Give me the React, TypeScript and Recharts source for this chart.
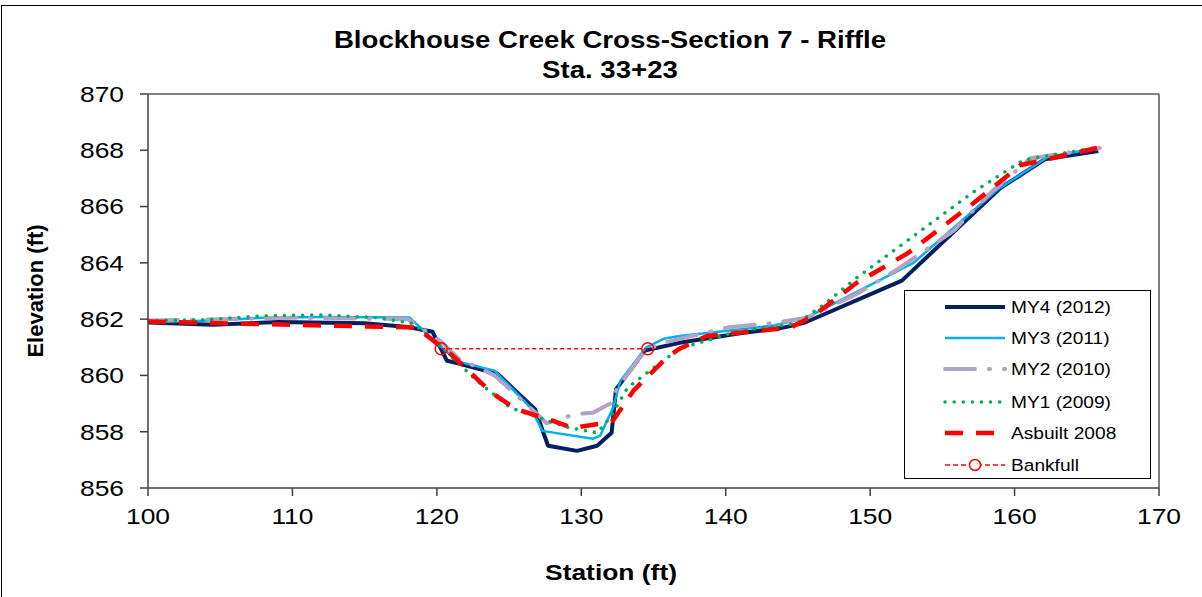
import React from 'react';
import { LineChart, Line, XAxis, YAxis, ReferenceLine } from 'recharts';

// station (ft) / elevation (ft) pairs
const my4Station = [100, 104.5, 109, 115, 118, 119.7, 120.7, 121.3, 124.2, 126.8, 127.7, 129.7, 131.1, 132.1, 132.4, 134.4, 136.8, 141, 144, 145.5, 152.2, 159, 162.1, 165.8];
const my4Elev = [861.88, 861.8, 861.9, 861.85, 861.72, 861.55, 860.52, 860.45, 860.06, 858.8, 857.5, 857.32, 857.5, 857.96, 859.5, 860.88, 861.16, 861.5, 861.7, 861.88, 863.37, 866.65, 867.68, 867.97];

const my3Station = [100, 104.5, 108, 112, 118.1, 121.4, 124.0, 126.5, 127.3, 130.8, 131.3, 132.2, 132.7, 134.5, 135.7, 136.8, 143.3, 145.6, 153.0, 158.8, 162.3, 165.7];
const my3Elev = [861.9, 861.95, 862.05, 862.08, 862.06, 860.5, 860.17, 858.85, 858.03, 857.75, 857.85, 858.85, 859.8, 861.0, 861.3, 861.4, 861.77, 862.05, 864.0, 866.6, 867.76, 868.08];

const my2Station = [100, 105, 110, 118, 120.3, 121.5, 124, 127, 127.6, 128.7, 129.9, 130.8, 132.0, 132.5, 134.4, 135.7, 140.1, 143.6, 145.6, 149.1, 152.1, 155.8, 158.3, 161.1, 165.9];
const my2Elev = [861.95, 862.0, 862.05, 862.0, 861.2, 860.6, 860.0, 858.6, 858.3, 858.5, 858.64, 858.67, 859.0, 859.56, 860.88, 861.16, 861.7, 861.88, 862.05, 862.9, 863.84, 865.15, 866.47, 867.72, 868.08];

const my1Station = [100, 104, 108, 112, 116, 118.4, 120.2, 122.8, 125.1, 127.6, 129.2, 131.1, 132.0, 133.2, 135.0, 136.8, 141.0, 144.9, 146.7, 149.1, 152.6, 157.1, 160.6, 165.7];
const my1Elev = [861.95, 861.98, 862.12, 862.15, 862.05, 861.84, 861.06, 859.8, 858.85, 858.4, 858.14, 857.96, 858.5, 859.56, 860.27, 860.95, 861.6, 861.84, 862.48, 863.48, 864.8, 866.5, 867.65, 868.1];

const asbuiltStation = [100, 105, 110, 118.6, 121.1, 123.8, 125.5, 127.6, 129.4, 131.3, 132.2, 133.6, 135.9, 136.8, 138.7, 144.5, 146.1, 149.1, 152.6, 157.1, 160.4, 165.7];
const asbuiltElev = [861.92, 861.85, 861.8, 861.7, 860.7, 859.38, 858.8, 858.46, 858.14, 858.28, 858.4, 859.45, 860.63, 860.95, 861.4, 861.7, 862.13, 863.3, 864.34, 866.1, 867.47, 868.08];

const bankfullStation = [120.3, 134.6];
const bankfullElev = [860.95, 860.95];

const xTicks = [100, 110, 120, 130, 140, 150, 160, 170];
const yTicks = [856, 858, 860, 862, 864, 866, 868, 870];

const toPoints = (st: number[], el: number[]) => st.map((x, i) => ({ x, y: el[i] }));

const series = [
  { name: 'MY4 (2012)', data: toPoints(my4Station, my4Elev), color: '#002060', width: 4, dash: undefined, cap: 'butt' },
  { name: 'MY3 (2011)', data: toPoints(my3Station, my3Elev), color: '#00B0F0', width: 2.5, dash: undefined, cap: 'butt' },
  { name: 'MY2 (2010)', data: toPoints(my2Station, my2Elev), color: '#B3A2C7', width: 4, dash: '30 14 1 14', cap: 'round' },
  { name: 'MY1 (2009)', data: toPoints(my1Station, my1Elev), color: '#00B050', width: 3.5, dash: '0.1 9', cap: 'round' },
  { name: 'Asbuilt 2008', data: toPoints(asbuiltStation, asbuiltElev), color: '#FF0000', width: 4.5, dash: '18 13', cap: 'butt' },
];
const bankfull = toPoints(bankfullStation, bankfullElev);

const font = '"Liberation Sans", Arial, sans-serif';
const STRETCH = 1.2; // the source picture is widened horizontally

const XTick = (props: any) => {
  const { x, y, payload } = props;
  return (
    <g transform={`translate(${x},${y})`}>
      <text transform={`scale(${STRETCH},1)`} textAnchor="middle" dy="0.71em" fontSize={22} fill="#000" fontFamily={font}>
        {payload.value}
      </text>
    </g>
  );
};

const YTick = (props: any) => {
  const { x, y, payload } = props;
  return (
    <g transform={`translate(${x},${y})`}>
      <text transform={`scale(${STRETCH},1)`} textAnchor="end" dy="0.355em" fontSize={22} fill="#000" fontFamily={font}>
        {payload.value}
      </text>
    </g>
  );
};

function LegendBox() {
  const rowY = [16, 47, 78, 111, 142, 174];
  return (
    <div style={{ position: 'absolute', left: 904, top: 290, width: 245, height: 187, border: '1.5px solid #000', background: '#fff' }}>
      <svg width={245} height={187} style={{ position: 'absolute', left: 0, top: 0 }}>
        {series.map((s, i) => (
          <line key={s.name} x1={40} x2={100} y1={rowY[i]} y2={rowY[i]} stroke={s.color} strokeWidth={s.width}
            strokeDasharray={s.dash} strokeLinecap={s.cap as any} />
        ))}
        <line x1={40} x2={100} y1={rowY[5]} y2={rowY[5]} stroke="#FF0000" strokeWidth={1.5} strokeDasharray="5 3" />
        <circle cx={70} cy={rowY[5]} r={5.5} fill="#fff" stroke="#FF0000" strokeWidth={1.5} />
        {[...series.map((s) => s.name), 'Bankfull'].map((n, i) => (
          <g key={n} transform={`translate(106,${rowY[i]})`}>
            <text transform="scale(1.16,1)" dy="0.35em" fontSize={16.5} fill="#000" fontFamily={font}>{n}</text>
          </g>
        ))}
      </svg>
    </div>
  );
}

export default function App() {
  return (
    <div style={{ position: 'absolute', left: 0, top: 0, width: 1202, height: 597, overflow: 'hidden', background: '#fff', fontFamily: font }}>
      <div style={{ position: 'absolute', left: 1, top: 5, width: 1300, height: 700, borderTop: '1px solid #000', borderLeft: '1px solid #000' }} />
      <div style={{ position: 'absolute', left: 610, top: 25, transform: `translateX(-50%) scaleX(${STRETCH})`, textAlign: 'center', fontWeight: 'bold', fontSize: 23, lineHeight: '30px', color: '#000', whiteSpace: 'nowrap' }}>
        Blockhouse Creek Cross-Section 7 - Riffle<br />Sta. 33+23
      </div>
      <div style={{ position: 'absolute', left: 36, top: 291, transform: 'translate(-50%, -50%) rotate(-90deg)', fontWeight: 'bold', fontSize: 22, whiteSpace: 'nowrap', color: '#000' }}>
        Elevation (ft)
      </div>
      <div style={{ position: 'absolute', left: 611, top: 573, transform: `translate(-50%, -50%) scaleX(${STRETCH})`, fontWeight: 'bold', fontSize: 22, whiteSpace: 'nowrap', color: '#000' }}>
        Station (ft)
      </div>
      <div style={{ position: 'absolute', left: 0, top: 0 }}>
        <LineChart width={1202} height={597} margin={{ top: 94, right: 43, left: 0, bottom: 79 }}>
          <XAxis type="number" dataKey="x" domain={[100, 170]} ticks={xTicks} interval={0} allowDataOverflow
            tick={<XTick />} tickSize={8} tickMargin={12}
            axisLine={{ stroke: '#404040', strokeWidth: 1.5 }} tickLine={{ stroke: '#404040', strokeWidth: 1.5 }} height={30} />
          <YAxis type="number" dataKey="y" domain={[856, 870]} ticks={yTicks} interval={0} allowDataOverflow width={148}
            tick={<YTick />} tickSize={8} tickMargin={16}
            axisLine={{ stroke: '#404040', strokeWidth: 1.5 }} tickLine={{ stroke: '#404040', strokeWidth: 1.5 }} />
          <ReferenceLine y={870} stroke="#808080" strokeWidth={2} />
          <ReferenceLine x={170} stroke="#808080" strokeWidth={2} />
          {series.map((s) => (
            <Line key={s.name} data={s.data} dataKey="y" name={s.name} type="linear" stroke={s.color}
              strokeWidth={s.width} strokeDasharray={s.dash} strokeLinecap={s.cap as any} strokeLinejoin="round"
              dot={false} activeDot={false} isAnimationActive={false} />
          ))}
          <Line data={bankfull} dataKey="y" name="Bankfull" type="linear" stroke="#FF0000" strokeWidth={1.5}
            strokeDasharray="4 3" dot={{ r: 6, fill: 'none', stroke: '#FF0000', strokeWidth: 1.5, strokeDasharray: 'none' }}
            activeDot={false} isAnimationActive={false} />
        </LineChart>
      </div>
      <LegendBox />
    </div>
  );
}
